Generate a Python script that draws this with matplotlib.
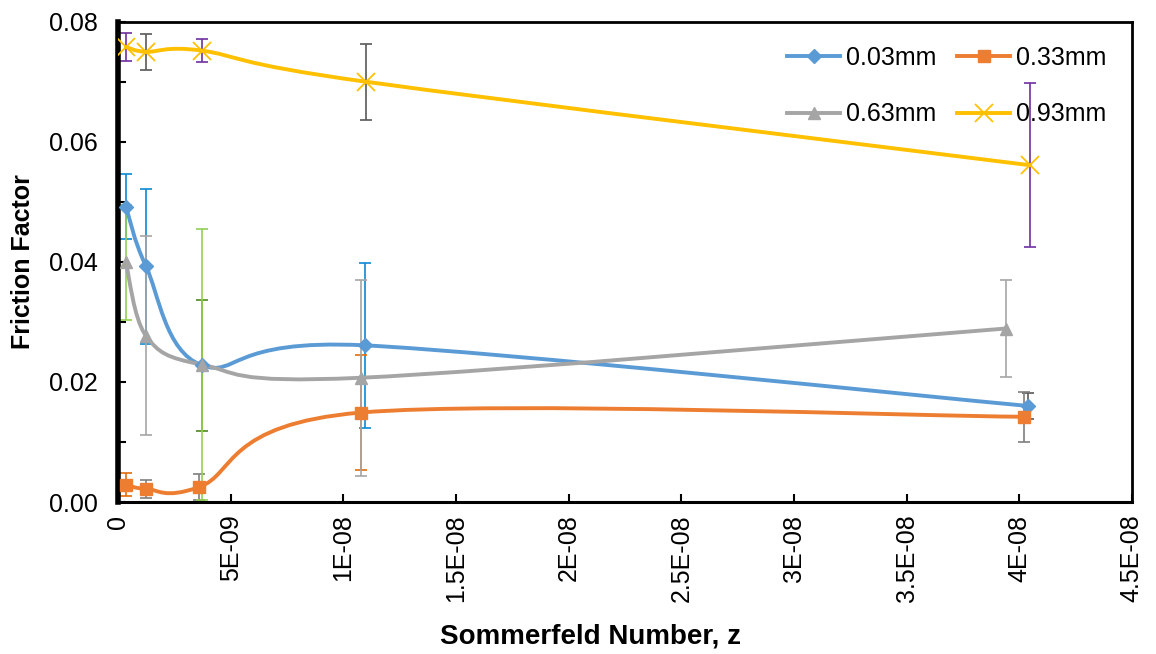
import matplotlib
matplotlib.use("Agg")
import matplotlib.pyplot as plt
from matplotlib.path import Path
from matplotlib.patches import PathPatch
from matplotlib.lines import Line2D
from matplotlib.ticker import MultipleLocator, FuncFormatter

plt.rcParams['font.family'] = ['Liberation Sans', 'DejaVu Sans']

# ---- data ----
labels = ["0.03mm", "0.33mm", "0.63mm", "0.93mm"]

z_003 = [3.4e-10, 1.23e-9, 3.70e-9, 1.094e-8, 4.04e-8]
f_003 = [0.0492, 0.0393, 0.0228, 0.0261, 0.0160]
e_003 = [0.0054, 0.0129, 0.0109, 0.0137, 0.0022]

z_033 = [3.4e-10, 1.23e-9, 3.60e-9, 1.077e-8, 4.02e-8]
f_033 = [0.0029, 0.0022, 0.0025, 0.0149, 0.0142]
e_033 = [0.0019, 0.0015, 0.0021, 0.0096, 0.0042]

z_063 = [3.4e-10, 1.23e-9, 3.70e-9, 1.077e-8, 3.94e-8]
f_063 = [0.0399, 0.0277, 0.0229, 0.0207, 0.0289]
e_063 = [0.0095, 0.0166, 0.0226, 0.0163, 0.0081]

z_093 = [3.4e-10, 1.23e-9, 3.70e-9, 1.102e-8, 4.05e-8]
f_093 = [0.0758, 0.0750, 0.0752, 0.0700, 0.0561]
e_093 = [0.0023, 0.0030, 0.0019, 0.0063, 0.0137]

x_ticks = [0, 5e-9, 1e-8, 1.5e-8, 2e-8, 2.5e-8, 3e-8, 3.5e-8, 4e-8, 4.5e-8]
y_ticks = [0.00, 0.02, 0.04, 0.06, 0.08]

# ---- styles ----
line_colors = ["#5B9BD5", "#ED7D31", "#A5A5A5", "#FFC000"]
markers = ["D", "s", "^", "x"]
msizes = [7, 8, 9, 13]
err_colors = [
    ["#0B8AD6", "#0B8AD6", "#4B8B1F", "#0B8AD6", "#595959"],
    ["#E46C0A", "#7F7F7F", "#7F7F7F", "#E46C0A", "#7F7F7F"],
    ["#92D050", "#A6A6A6", "#92D050", "#A6A6A6", "#A6A6A6"],
    ["#7030A0", "#595959", "#7030A0", "#595959", "#7030A0"],
]

series = [(z_003, f_003, e_003), (z_033, f_033, e_033),
          (z_063, f_063, e_063), (z_093, f_093, e_093)]


def smooth_path(xs, ys, t=1.0 / 6.0):
    """Excel-style smoothed line as cubic Bezier path through the points."""
    n = len(xs)
    verts = [(xs[0], ys[0])]
    codes = [Path.MOVETO]
    for i in range(n - 1):
        x0, y0 = xs[max(i - 1, 0)], ys[max(i - 1, 0)]
        x1, y1 = xs[i], ys[i]
        x2, y2 = xs[i + 1], ys[i + 1]
        x3, y3 = xs[min(i + 2, n - 1)], ys[min(i + 2, n - 1)]
        c1 = (x1 + (x2 - x0) * t, y1 + (y2 - y0) * t)
        c2 = (x2 - (x3 - x1) * t, y2 - (y3 - y1) * t)
        verts += [c1, c2, (x2, y2)]
        codes += [Path.CURVE4] * 3
    return Path(verts, codes)


fig = plt.figure(figsize=(11.56, 6.54), dpi=100)
ax = fig.add_axes([0.1023, 0.2324, 0.8767, 0.7343])

handles = []
for k, (zs, fs, es) in enumerate(series):
    # error bars
    for j in range(len(zs)):
        ax.errorbar([zs[j]], [fs[j]], yerr=[es[j]], fmt="none",
                    ecolor=err_colors[k][j], elinewidth=1.2, capsize=4.5,
                    capthick=1.2, zorder=2)
    # smoothed line
    patch = PathPatch(smooth_path(zs, fs), facecolor="none",
                      edgecolor=line_colors[k], linewidth=2.8, zorder=3,
                      capstyle="round", joinstyle="round")
    ax.add_patch(patch)
    # markers
    mk = dict(marker=markers[k], markersize=msizes[k], color=line_colors[k],
              markerfacecolor=line_colors[k], markeredgecolor=line_colors[k])
    if markers[k] == "x":
        mk["markeredgewidth"] = 1.3
    ax.plot(zs, fs, linestyle="none", zorder=4, **mk)
    handles.append(Line2D([], [], linewidth=2.8, **mk))

ax.set_xlim(0, 4.5e-8)
ax.set_ylim(0, 0.08)
ax.set_xticks(x_ticks)
ax.set_yticks(y_ticks)
ax.yaxis.set_minor_locator(MultipleLocator(0.01))


def xfmt(v, pos):
    if abs(v) < 1e-20:
        return "0"
    s = f"{v:.1E}"
    mant, exp = s.split("E")
    if mant.endswith(".0"):
        mant = mant[:-2]
    return f"{mant}E{exp}"


ax.xaxis.set_major_formatter(FuncFormatter(xfmt))
ax.yaxis.set_major_formatter(FuncFormatter(lambda v, p: f"{v:.2f}"))

ax.tick_params(axis="x", direction="in", length=6, width=1.5, labelsize=18,
               pad=9, labelrotation=90)
ax.tick_params(axis="y", which="both", direction="in", length=6, width=1.5,
               labelsize=18, pad=15)

for side in ["top", "right"]:
    ax.spines[side].set_linewidth(2.0)
ax.spines["bottom"].set_linewidth(2.2)
ax.spines["left"].set_linewidth(4.0)
for s in ax.spines.values():
    s.set_color("black")

fig.text(0.5108, 0.026, "Sommerfeld Number, z", ha="center", va="center",
         fontsize=20, fontweight="bold")
fig.text(0.020, 0.6, "Friction Factor", ha="center", va="center",
         fontsize=18, fontweight="bold", rotation=90)

order = [0, 2, 1, 3]
leg = fig.legend([handles[i] for i in order], [labels[i] for i in order],
                 ncol=2, loc="upper left", bbox_to_anchor=(0.681, 0.930),
                 frameon=False, fontsize=18, handlelength=2.12,
                 handletextpad=0.22, columnspacing=0.85, labelspacing=1.3,
                 borderpad=0, borderaxespad=0)

fig.savefig("out.png", dpi=100)
